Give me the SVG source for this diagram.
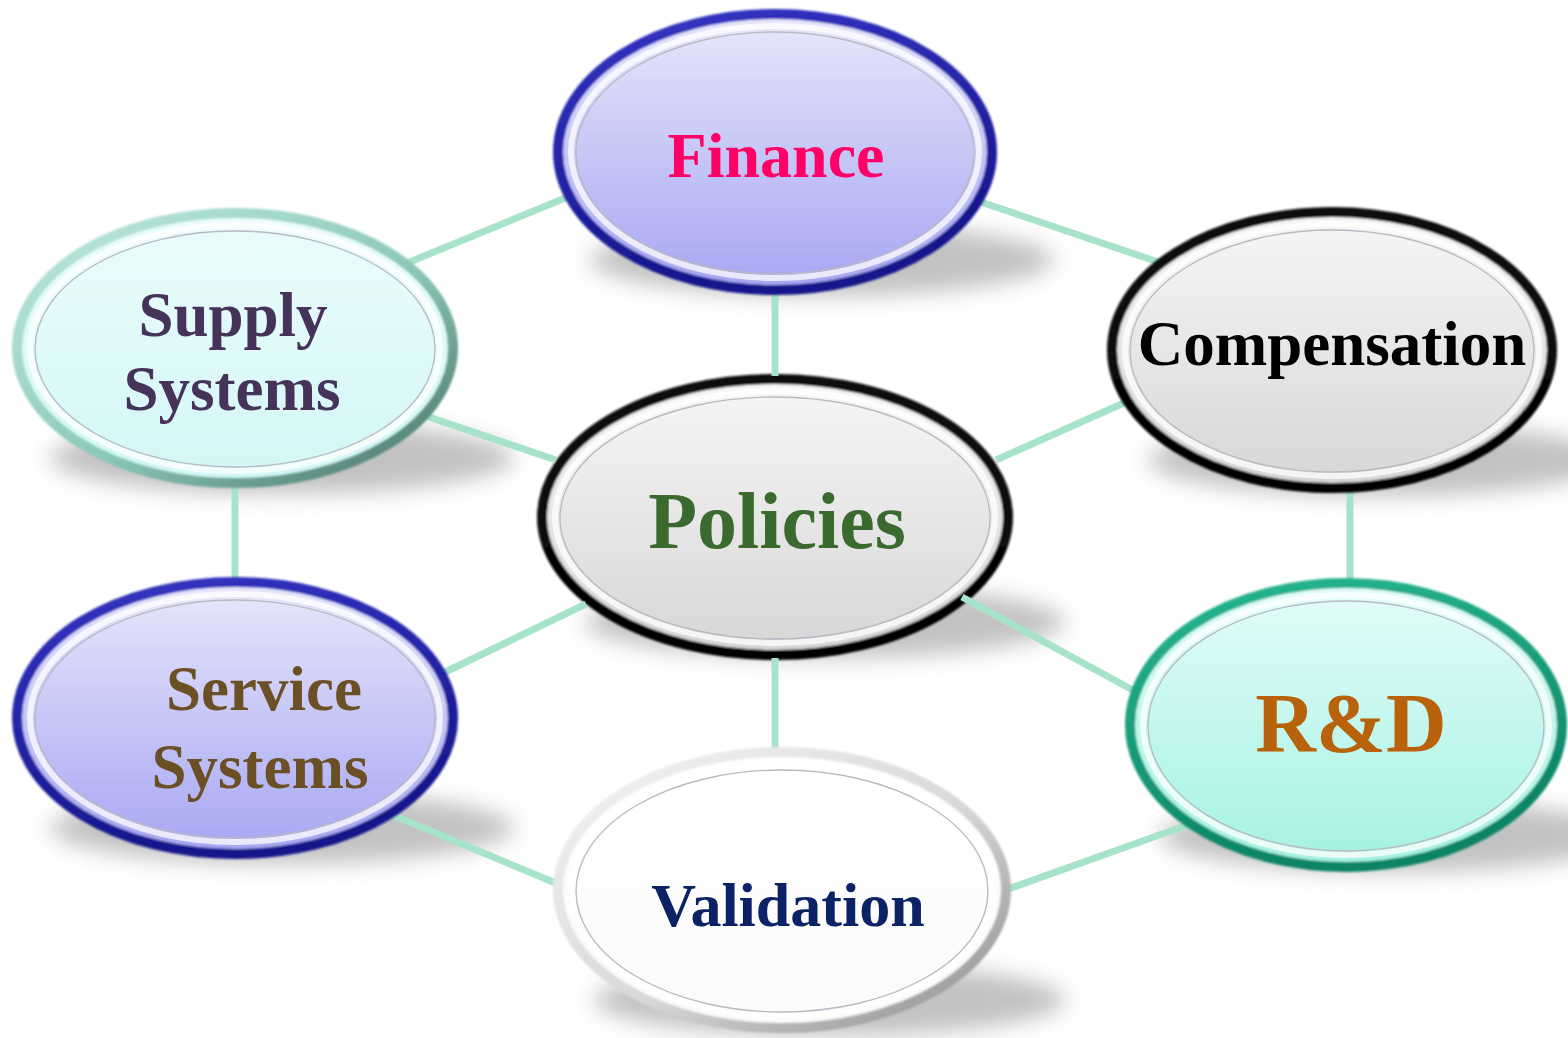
<svg xmlns="http://www.w3.org/2000/svg" width="1568" height="1038" viewBox="0 0 1568 1038">
  <style>
    .link { stroke: #a7e3cb; stroke-width: 7; fill: none; stroke-linecap: butt; }
    .shadow { fill: #9a9a9a; opacity: 0.6; filter: url(#soft); }
    .rim { stroke-width: 10; filter: url(#edge); }
    .band { fill: none; stroke: #ffffff; stroke-opacity: 0.75; stroke-width: 6; }
    .ring { fill: none; stroke: #b9b9c4; stroke-width: 1.3; }
    .label { font-family: "Liberation Serif", "Times New Roman", serif; font-weight: bold; text-anchor: middle; }
  </style>
  <defs>
    <filter id="soft" x="-30%" y="-80%" width="160%" height="260%">
      <feGaussianBlur stdDeviation="11"/>
    </filter>
    <filter id="edge" x="-5%" y="-5%" width="110%" height="110%">
      <feGaussianBlur stdDeviation="0.8"/>
    </filter>
    <!-- fills -->
    <linearGradient id="fillBlue" x1="0" y1="0" x2="0" y2="1">
      <stop offset="0" stop-color="#e8e8fb"/>
      <stop offset="1" stop-color="#a6a6f3"/>
    </linearGradient>
    <linearGradient id="fillGrey" x1="0" y1="0" x2="0" y2="1">
      <stop offset="0" stop-color="#f7f7f7"/>
      <stop offset="1" stop-color="#d6d6d6"/>
    </linearGradient>
    <linearGradient id="fillAqua" x1="0" y1="0" x2="0" y2="1">
      <stop offset="0" stop-color="#ecfcfc"/>
      <stop offset="1" stop-color="#d2f7f6"/>
    </linearGradient>
    <linearGradient id="fillMint" x1="0" y1="0" x2="0" y2="1">
      <stop offset="0" stop-color="#e4fcfa"/>
      <stop offset="1" stop-color="#a4f2e2"/>
    </linearGradient>
    <linearGradient id="fillWhite" x1="0" y1="0" x2="0" y2="1">
      <stop offset="0" stop-color="#ffffff"/>
      <stop offset="1" stop-color="#fbfbfb"/>
    </linearGradient>
    <!-- rims -->
    <linearGradient id="rimBlue" x1="0" y1="0" x2="0.3" y2="1">
      <stop offset="0" stop-color="#3434c4"/>
      <stop offset="1" stop-color="#15158a"/>
    </linearGradient>
    <linearGradient id="rimBlack" x1="0" y1="0" x2="0" y2="1">
      <stop offset="0" stop-color="#111111"/>
      <stop offset="1" stop-color="#000000"/>
    </linearGradient>
    <linearGradient id="rimAqua" x1="0" y1="0" x2="1" y2="1">
      <stop offset="0" stop-color="#bfe9df"/>
      <stop offset="0.55" stop-color="#8cc9b9"/>
      <stop offset="1" stop-color="#466f64"/>
    </linearGradient>
    <linearGradient id="rimMint" x1="0" y1="0" x2="0.3" y2="1">
      <stop offset="0" stop-color="#28b792"/>
      <stop offset="1" stop-color="#0b8466"/>
    </linearGradient>
    <linearGradient id="rimWhite" x1="0" y1="0" x2="1" y2="1">
      <stop offset="0" stop-color="#f4f4f4"/>
      <stop offset="0.55" stop-color="#d8d8d8"/>
      <stop offset="1" stop-color="#8a8a8a"/>
    </linearGradient>
  </defs>

  <rect width="1568" height="1038" fill="#ffffff"/>

  <!-- cast shadows under each oval -->
  <g id="shadows">
    <ellipse class="shadow" cx="822" cy="260" rx="232" ry="36"/>
    <ellipse class="shadow" cx="282" cy="458" rx="232" ry="36"/>
    <ellipse class="shadow" cx="1380" cy="460" rx="232" ry="36"/>
    <ellipse class="shadow" cx="825" cy="622" rx="240" ry="36"/>
    <ellipse class="shadow" cx="282" cy="828" rx="232" ry="36"/>
    <ellipse class="shadow" cx="1392" cy="836" rx="232" ry="36"/>
    <ellipse class="shadow" cx="830" cy="1000" rx="236" ry="36"/>
  </g>

  <!-- the hub oval sits under the links; links to it stop at its rim -->
  <g id="policies">
    <ellipse class="rim" cx="775" cy="517" rx="233" ry="138" fill="url(#fillGrey)" stroke="url(#rimBlack)"/>
    <ellipse class="band" cx="775" cy="517" rx="220" ry="126"/>
    <ellipse class="ring" cx="775" cy="518" rx="215" ry="121"/>
    <text class="label" x="777" y="548" font-size="80" fill="#3b6a2f">Policies</text>
  </g>

  <!-- connectors -->
  <g id="connectors">
    <line class="link" x1="400" y1="266" x2="575" y2="194"/>
    <line class="link" x1="975" y1="200" x2="1170" y2="266"/>
    <line class="link" x1="775" y1="285" x2="775" y2="376"/>
    <line class="link" x1="420" y1="414" x2="556" y2="460"/>
    <line class="link" x1="996" y1="460" x2="1135" y2="398"/>
    <line class="link" x1="235" y1="480" x2="235" y2="585"/>
    <line class="link" x1="1350" y1="485" x2="1350" y2="585"/>
    <line class="link" x1="435" y1="677" x2="586" y2="604"/>
    <line class="link" x1="962" y1="597" x2="1140" y2="694"/>
    <line class="link" x1="775" y1="658" x2="775" y2="758"/>
    <line class="link" x1="390" y1="814" x2="565" y2="887"/>
    <line class="link" x1="1000" y1="892" x2="1190" y2="824"/>
  </g>

  <g id="finance">
    <ellipse class="rim" cx="775" cy="152" rx="217" ry="138" fill="url(#fillBlue)" stroke="url(#rimBlue)"/>
    <ellipse class="band" cx="775" cy="152" rx="204" ry="126"/>
    <ellipse class="ring" cx="775" cy="153" rx="199" ry="121"/>
    <text class="label" x="776" y="177" font-size="64" fill="#ff0066">Finance</text>
  </g>

  <g id="supply-systems">
    <ellipse class="rim" cx="235" cy="348" rx="218" ry="135" fill="url(#fillAqua)" stroke="url(#rimAqua)"/>
    <ellipse class="band" cx="235" cy="348" rx="205" ry="123"/>
    <ellipse class="ring" cx="235" cy="349" rx="200" ry="118"/>
    <text class="label" x="233" y="336" font-size="63" fill="#46335a">Supply</text>
    <text class="label" x="232" y="410" font-size="63" fill="#46335a">Systems</text>
  </g>

  <g id="compensation">
    <ellipse class="rim" cx="1332" cy="350" rx="220" ry="138" fill="url(#fillGrey)" stroke="url(#rimBlack)"/>
    <ellipse class="band" cx="1332" cy="350" rx="207" ry="126"/>
    <ellipse class="ring" cx="1332" cy="351" rx="202" ry="121"/>
    <text class="label" x="1332" y="365" font-size="63" fill="#000000">Compensation</text>
  </g>

  <g id="service-systems">
    <ellipse class="rim" cx="235" cy="718" rx="218" ry="136" fill="url(#fillBlue)" stroke="url(#rimBlue)"/>
    <ellipse class="band" cx="235" cy="718" rx="205" ry="124"/>
    <ellipse class="ring" cx="235" cy="719" rx="200" ry="119"/>
    <text class="label" x="264" y="710" font-size="63" fill="#6b4f25">Service</text>
    <text class="label" x="260" y="788" font-size="63" fill="#6b4f25">Systems</text>
  </g>

  <g id="r-and-d">
    <ellipse class="rim" cx="1346" cy="725" rx="216" ry="142" fill="url(#fillMint)" stroke="url(#rimMint)"/>
    <ellipse class="band" cx="1346" cy="725" rx="203" ry="130"/>
    <ellipse class="ring" cx="1346" cy="726" rx="198" ry="125"/>
    <text class="label" x="1351" y="752" font-size="84" fill="#b8620b">R&amp;D</text>
  </g>

  <g id="validation">
    <ellipse class="rim" cx="782" cy="890" rx="224" ry="138" fill="url(#fillWhite)" stroke="url(#rimWhite)"/>
    <ellipse class="band" cx="782" cy="890" rx="211" ry="126"/>
    <ellipse class="ring" cx="782" cy="891" rx="206" ry="121" stroke="#e2e2e2"/>
    <text class="label" x="788" y="926" font-size="62" fill="#0b2264">Validation</text>
  </g>
</svg>
